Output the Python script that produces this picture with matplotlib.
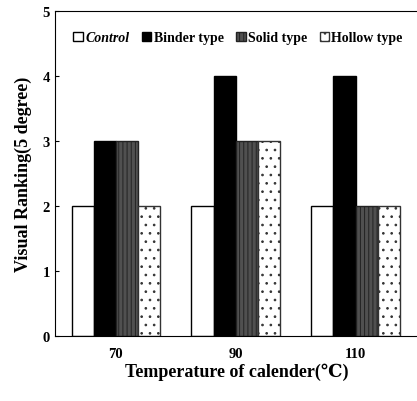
import matplotlib.pyplot as plt
import numpy as np

# data
temps = ["70", "90", "110"]
series = ["Control", "Binder type", "Solid type", "Hollow type"]
control = [2, 2, 2]
binder = [3, 4, 4]
solid = [3, 3, 2]
hollow = [2, 3, 2]
yticks = [0, 1, 2, 3, 4, 5]

serif = ["Liberation Serif", "DejaVu Serif"]
plt.rcParams["font.family"] = serif
plt.rcParams["hatch.linewidth"] = 0.7

fig = plt.figure(figsize=(4.17, 4.02), dpi=100)
ax = fig.add_axes([0.132, 0.162, 0.87, 0.808])

x = np.arange(len(temps))
w = 0.185
styles = [
    dict(facecolor="white", edgecolor="black", hatch=None),
    dict(facecolor="black", edgecolor="black", hatch=None),
    dict(facecolor="#505050", edgecolor="#222222", hatch="||||"),
    dict(facecolor="white", edgecolor="#333333", hatch=".."),
]
vals = [control, binder, solid, hollow]
for i in range(4):
    ax.bar(x + (i - 1.5) * w, vals[i], w, label=series[i], linewidth=1.0, **styles[i])

ax.set_xlim(-0.508, 2.52)
ax.set_ylim(0, 5)
ax.set_xticks(x)
ax.set_xticklabels(temps, fontweight="bold", fontsize=10.5)
ax.set_yticks(yticks)
ax.set_yticklabels([str(t) for t in yticks], fontweight="bold", fontsize=10.5)
ax.tick_params(axis="y", direction="in", length=3)
ax.tick_params(axis="x", length=0, pad=8)
ax.spines["right"].set_visible(False)

ax.set_xlabel("Temperature of calender(℃)", fontweight="bold", fontsize=13, labelpad=2)
ax.set_ylabel("Visual Ranking(5 degree)", fontweight="bold", fontsize=13, labelpad=8)

leg = ax.legend(loc="upper left", bbox_to_anchor=(0.035, 0.955), ncol=4, frameon=False,
                handlelength=0.7, handleheight=0.7, handletextpad=0.15,
                columnspacing=0.9, borderaxespad=0,
                prop={"family": serif, "weight": "bold", "size": 10})
leg.get_texts()[0].set_fontstyle("italic")

fig.savefig("out.png", dpi=100)
